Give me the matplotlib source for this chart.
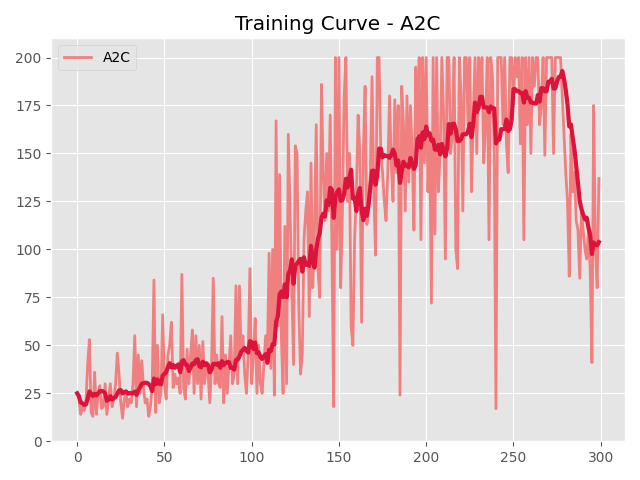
import numpy as np
import pandas as pd
import matplotlib
matplotlib.use("Agg")
import matplotlib.pyplot as plt

plt.style.use("ggplot")

# raw episode rewards (episodes 0..299)
rewards = [
    25, 22, 14, 18, 16, 20, 40, 53, 15, 13,
    36, 14, 25, 29, 17, 18, 30, 14, 22, 30,
    18, 22, 30, 46, 35, 20, 12, 22, 25, 18,
    22, 20, 30, 55, 18, 45, 25, 42, 28, 20,
    22, 13, 18, 30, 84, 15, 50, 20, 25, 66,
    30, 22, 45, 50, 62, 28, 35, 30, 33, 25,
    87, 28, 22, 48, 30, 45, 58, 25, 55, 30,
    50, 22, 52, 30, 40, 35, 20, 40, 85, 30,
    45, 30, 28, 65, 20, 45, 25, 40, 55, 30,
    35, 81, 30, 81, 45, 55, 35, 25, 45, 90,
    30, 45, 64, 25, 50, 30, 25, 40, 55, 45,
    98, 38, 100, 24, 167, 60, 139, 55, 25, 112,
    30, 160, 120, 80, 40, 154, 150, 70, 35, 45,
    105, 120, 130, 65, 145, 80, 110, 165, 90, 75,
    186, 140, 115, 150, 120, 170, 100, 18, 200, 100,
    200, 80, 120, 180, 200, 125, 150, 60, 50, 105,
    130, 170, 150, 62, 150, 185, 113, 120, 140, 190,
    130, 97, 200, 200, 150, 140, 125, 115, 140, 180,
    145, 125, 178, 140, 175, 24, 185, 165, 120, 180,
    135, 175, 150, 110, 195, 160, 200, 105, 200, 145,
    200, 130, 160, 72, 200, 108, 200, 130, 150, 200,
    170, 95, 200, 200, 150, 160, 200, 100, 90, 200,
    180, 120, 200, 200, 165, 200, 130, 170, 200, 150,
    200, 180, 200, 145, 165, 200, 105, 200, 190, 150,
    17, 200, 200, 200, 165, 200, 155, 140, 200, 200,
    175, 200, 190, 200, 155, 200, 105, 200, 165, 200,
    150, 200, 185, 200, 200, 165, 175, 200, 149, 200,
    200, 200, 200, 150, 200, 200, 200, 200, 180, 160,
    140, 125, 86, 160, 130, 140, 115, 110, 85, 120,
    110, 100, 95, 110, 90, 41, 175, 100, 80, 137,
]

episodes = np.arange(len(rewards))
smoothed = pd.Series(rewards).rolling(10, min_periods=1).mean()

fig, ax = plt.subplots(figsize=(6.4, 4.8), dpi=100)
ax.plot(episodes, rewards, color="#f08080", linewidth=2, label="A2C")
ax.plot(episodes, smoothed, color="crimson", linewidth=3)
ax.set_title("Training Curve - A2C")
ax.set_ylim(0, 210)
ax.legend(loc="upper left")
plt.tight_layout()
plt.savefig("out.png")
